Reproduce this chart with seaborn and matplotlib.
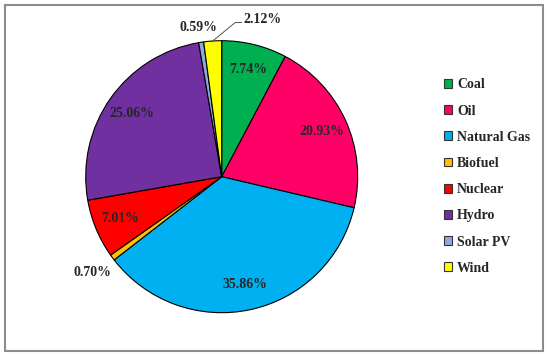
import numpy as np
import seaborn as sns
import matplotlib.pyplot as plt
from matplotlib.patches import Patch, Rectangle

# energy mix shares (%)
sources = ['Coal', 'Oil', 'Natural Gas', 'Biofuel', 'Nuclear', 'Hydro', 'Solar PV', 'Wind']
shares = [7.74, 20.93, 35.86, 0.70, 7.01, 25.06, 0.59, 2.12]
colors = ['#00B050', '#FF0066', '#00B0F0', '#FFC000', '#FF0000', '#7030A0', '#8EA9DB', '#FFFF00']

sns.set_theme(style='white')
plt.rcParams['font.family'] = ['Liberation Serif', 'DejaVu Serif']
FS = 10

W, H = 550, 356
fig = plt.figure(figsize=(W / 100, H / 100), dpi=100)

# pie centre / radius in pixels
cx, cy, R = 221.7, 176.7, 136
ax = fig.add_axes([(cx - R) / W, (H - cy - R) / H, 2 * R / W, 2 * R / H])

wedges, _ = ax.pie(shares, colors=colors, startangle=90, counterclock=False,
                   wedgeprops=dict(edgecolor='black', linewidth=0.8))
ax.set_xlim(-1, 1)
ax.set_ylim(-1, 1)
ax.axis('off')

for w, val, name in zip(wedges, shares, sources):
    mid = np.deg2rad((w.theta1 + w.theta2) / 2)
    dx, dy = np.cos(mid), np.sin(mid)
    lab = f'{val:.2f}%'
    if name == 'Wind':
        # label off to the right with a leader line
        tx, ty = 0.157, 1.157
        ax.plot([dx, 0.10, 0.147], [dy, 1.134, 1.134], color='#555555', lw=0.7,
                clip_on=False)
        ax.text(tx, ty, lab, ha='left', va='center', fontsize=FS, fontweight='bold')
    elif name == 'Solar PV':
        ax.text(1.11 * dx, 1.11 * dy, lab, ha='center', va='center',
                fontsize=FS, fontweight='bold')
    elif name == 'Biofuel':
        ax.text(1.18 * dx, 1.18 * dy, lab, ha='center', va='center',
                fontsize=FS, fontweight='bold')
    else:
        ax.text(0.81 * dx, 0.81 * dy, lab, ha='center', va='center',
                fontsize=FS, fontweight='bold')

handles = [Patch(facecolor=c, edgecolor='#333333', linewidth=0.8) for c in colors]
fig.legend(handles, sources, loc='center left', bbox_to_anchor=(0.807, 0.504),
           bbox_transform=fig.transFigure, frameon=False, borderpad=0,
           borderaxespad=0, handlelength=0.6, handleheight=0.6,
           handletextpad=0.35, labelspacing=0.95,
           prop=dict(size=FS, weight='bold'))

# outer frame
fig.patches.append(Rectangle((5 / W, 5 / H), 538 / W, 346 / H, transform=fig.transFigure,
                             fill=False, edgecolor='#8c8c8c', linewidth=1.5))

fig.savefig('out.png', dpi=100)
